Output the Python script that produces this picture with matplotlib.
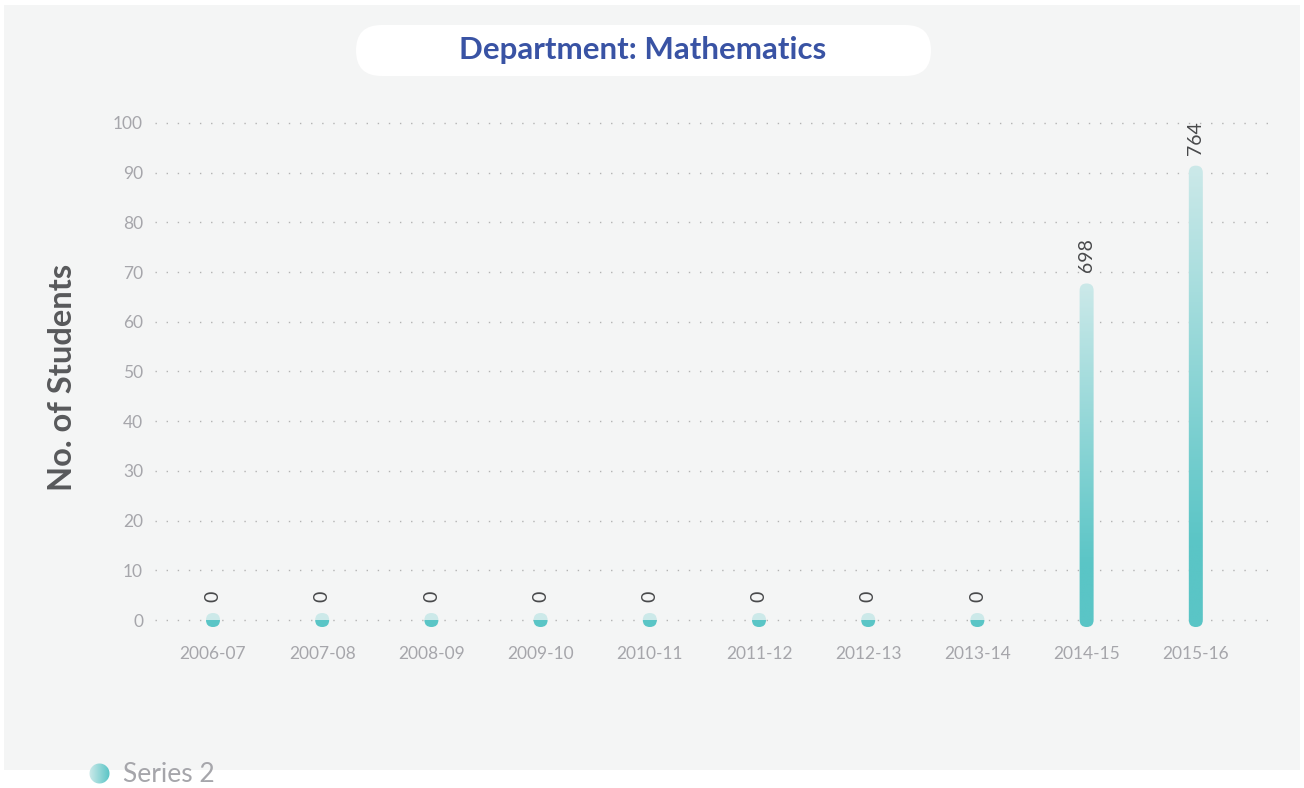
import numpy as np
import matplotlib.pyplot as plt
from matplotlib.patches import FancyBboxPatch, Rectangle
from matplotlib.transforms import IdentityTransform
from matplotlib.colors import LinearSegmentedColormap, to_rgb

plt.rcParams['font.family'] = ['Lato', 'DejaVu Sans']

# data
years = ["2006-07", "2007-08", "2008-09", "2009-10", "2010-11",
         "2011-12", "2012-13", "2013-14", "2014-15", "2015-16"]
heights = [0, 0, 0, 0, 0, 0, 0, 0, 66.3, 90.0]
labels = ["0", "0", "0", "0", "0", "0", "0", "0", "698", "764"]
yticks = [0, 10, 20, 30, 40, 50, 60, 70, 80, 90, 100]

W, H = 1304, 788
fig = plt.figure(figsize=(W / 100, H / 100), dpi=100)
fig.patch.set_facecolor('white')
ident = IdentityTransform()

teal = '#5ac5c6'
light = '#cce9e9'
grey_txt = '#a6a6ab'
dark_txt = '#58595b'

# panel background
fig.add_artist(Rectangle((4, H - 770), 1296, 765, facecolor='#f4f5f5',
                         edgecolor='none', transform=ident, zorder=0))

# title box
fig.add_artist(FancyBboxPatch((356, H - 76), 575, 51,
                              boxstyle="round,pad=0,rounding_size=25.5",
                              facecolor='white', edgecolor='none',
                              transform=ident, zorder=1))
fig.text(643 / W, 1 - 50 / H, "Department: Mathematics", ha='center', va='center',
         fontsize=22.5, fontweight='bold', color='#3953a4', zorder=2)

# axes
ax = fig.add_axes([155 / W, (H - 640) / H, (1268 - 155) / W, (640 - 110) / H])
ax.patch.set_alpha(0)
for s in ax.spines.values():
    s.set_visible(False)
ax.set_xlim(-0.531, 9.661)
ax.set_ylim(-4.02, 102.6)
ax.autoscale(False)

x = np.arange(len(years))
ax.set_xticks(x)
ax.set_xticklabels(years)
ax.set_yticks(yticks)
ax.tick_params(axis='both', length=0, colors=grey_txt, labelsize=12.5)
ax.tick_params(axis='x', pad=4)
ax.tick_params(axis='y', pad=8.6)
ax.grid(axis='y', linestyle=(0, (1, 7)), color='#b3b3b3', linewidth=1)
ax.grid(axis='x', visible=False)
ax.set_axisbelow(True)

fig.text(62 / W, 1 - 377 / H, "No. of Students", rotation=90, ha='center', va='center',
         fontsize=23.5, fontweight='bold', color=dark_txt)

# gradient bars with round caps
cmap = LinearSegmentedColormap.from_list('bar', [(0, teal), (0.18, teal), (1, light)])
bar_w = 14
r = bar_w / 2
inv = ax.transData.inverted()
for xi, h, lab in zip(x, heights, labels):
    px, p0 = ax.transData.transform((xi, 0))
    _, p1 = ax.transData.transform((xi, h))
    clip = FancyBboxPatch((px - r, p0 - r), bar_w, p1 - p0 + 2 * r,
                          boxstyle=f"round,pad=0,rounding_size={r}", transform=ident)
    x0d, y0d = inv.transform((px - r - 1, p0 - r))
    x1d, y1d = inv.transform((px + r + 1, p1 + r))
    if h == 0:
        grad = np.array([[0.0], [1.0]])
    else:
        grad = np.linspace(0, 1, 256)[:, None]
    im = ax.imshow(grad, cmap=cmap, vmin=0, vmax=1, origin='lower', aspect='auto',
                   extent=[x0d, x1d, y0d, y1d], interpolation='nearest' if h == 0 else 'bilinear',
                   zorder=3)
    im.set_clip_path(clip)
    ax.annotate(lab, (xi, h), xytext=(0, 13), textcoords='offset points',
                rotation=90, ha='center', va='bottom', fontsize=14,
                color='#48494b', zorder=4)

# legend
d = 21
yy, xx = np.mgrid[0:d, 0:d]
dist = np.hypot(xx - (d - 1) / 2, yy - (d - 1) / 2)
alpha = np.clip(d / 2 - dist, 0, 1)
t = (xx / (d - 1))[..., None]
rgb = np.array(to_rgb(light)) * (1 - t) + np.array(to_rgb(teal)) * t
fig.figimage(np.dstack([rgb, alpha]), xo=99 - d // 2, yo=H - 774 - d // 2, zorder=5)
fig.text(123 / W, 1 - 775 / H, "Series 2", ha='left', va='center',
         fontsize=19, color=grey_txt)

fig.savefig('out.png', dpi=100)
